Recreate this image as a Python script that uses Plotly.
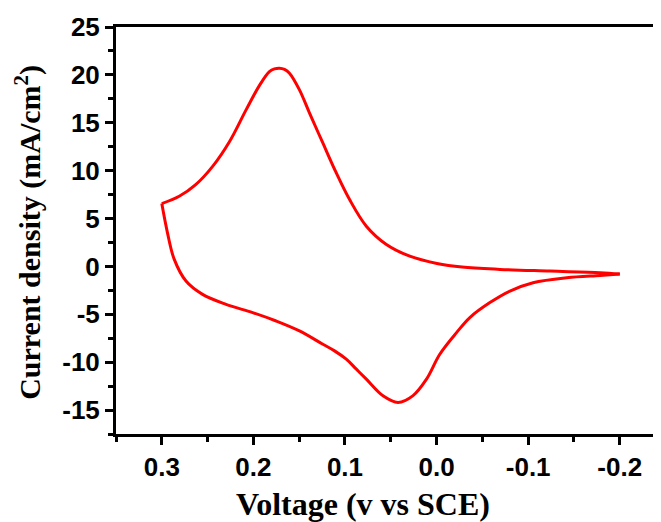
import plotly.graph_objects as go

# Forward (upper) branch: from 0.3 V vertex to -0.2 V vertex
upper_voltage = [0.300, 0.281, 0.263, 0.2445, 0.226, 0.208, 0.193, 0.1825, 0.177, 0.1716, 0.166,
                 0.1606, 0.1497, 0.1387, 0.1242, 0.1095, 0.095, 0.0767, 0.0548, 0.0293, -0.0004,
                 -0.0278, -0.0691, -0.1238, -0.1785, -0.200]
upper_current = [6.56, 7.32, 8.54, 10.45, 13.05, 16.35, 18.96, 20.34, 20.62, 20.70, 20.57,
                 20.18, 18.44, 16.01, 12.89, 9.76, 6.98, 4.20, 2.29, 1.07, 0.31,
                 -0.07, -0.31, -0.49, -0.66, -0.80]

# Reverse (lower) branch: from -0.2 V vertex back to 0.3 V vertex
lower_voltage = [-0.200, -0.1785, -0.1421, -0.1053, -0.0801, -0.0582, -0.0363, -0.0218,
                 -0.0035, 0.0110, 0.0257, 0.0421, 0.0585, 0.0767, 0.0876, 0.0986, 0.1114,
                 0.1242, 0.1497, 0.1752, 0.2008, 0.2299, 0.2555, 0.2736, 0.2864, 0.2938, 0.300]
lower_current = [-0.80, -0.94, -1.18, -1.70, -2.57, -3.78, -5.34, -6.91,
                 -9.17, -11.77, -13.49, -14.20, -13.51, -11.77, -10.73, -9.69, -8.82,
                 -8.13, -6.74, -5.70, -4.82, -3.96, -2.92, -1.53, 0.73, 3.51, 6.56]

x_tick_vals = [0.3, 0.2, 0.1, 0.0, -0.1, -0.2]
x_tick_text = ["0.3", "0.2", "0.1", "0.0", "-0.1", "-0.2"]
y_tick_vals = [25, 20, 15, 10, 5, 0, -5, -10, -15]
y_tick_text = ["25", "20", "15", "10", "5", "0", "-5", "-10", "-15"]

x_title = "Voltage (v vs SCE)"
y_title = "Current density (mA/cm<sup>2</sup>)"

fig = go.Figure()
for xs, ys in [(upper_voltage, upper_current), (lower_voltage, lower_current)]:
    fig.add_trace(go.Scatter(x=xs, y=ys, mode="lines",
                             line=dict(color="#ff0000", width=3, shape="spline", smoothing=1.0),
                             showlegend=False, hoverinfo="skip"))

tick_font = dict(family="Liberation Sans, Arial", size=26, color="black", weight="bold")
title_font = dict(family="Liberation Serif, Times New Roman", size=30, color="black", weight="bold")
xtitle_font = dict(family="Liberation Serif, Times New Roman", size=32, color="black", weight="bold")

fig.update_layout(
    width=653, height=514,
    margin=dict(l=108, r=0, t=19, b=88),
    paper_bgcolor="white", plot_bgcolor="white",
    showlegend=False,
    xaxis=dict(range=[0.35, -0.245], tickvals=x_tick_vals, ticktext=x_tick_text,
               showgrid=False, zeroline=False, showline=True, linecolor="black", linewidth=3,
               mirror=True, ticks="outside", ticklen=8, tickwidth=2.5, tickcolor="black",
               tickfont=tick_font,
               minor=dict(tickvals=[0.35, 0.25, 0.15, 0.05, -0.05, -0.15], ticks="outside",
                          ticklen=5, tickwidth=2.5, tickcolor="black")),
    yaxis=dict(range=[-17.5, 25], tickvals=y_tick_vals, ticktext=y_tick_text,
               showgrid=False, zeroline=False, showline=True, linecolor="black", linewidth=3,
               mirror=False, ticks="outside", ticklen=8, tickwidth=2.5, tickcolor="black",
               tickfont=tick_font,
               minor=dict(tickvals=[22.5, 17.5, 12.5, 7.5, 2.5, -2.5, -7.5, -12.5, -17.5],
                          ticks="outside", ticklen=5, tickwidth=2.5, tickcolor="black")),
    annotations=[
        dict(text=x_title, xref="paper", yref="paper", x=0.453, y=-0.172,
             xanchor="center", yanchor="middle", showarrow=False, font=xtitle_font),
        dict(text=y_title, xref="paper", yref="paper", x=-0.162, y=0.496,
             xanchor="center", yanchor="middle", showarrow=False, textangle=-90, font=title_font),
    ],
)

fig.write_html("out.html")
